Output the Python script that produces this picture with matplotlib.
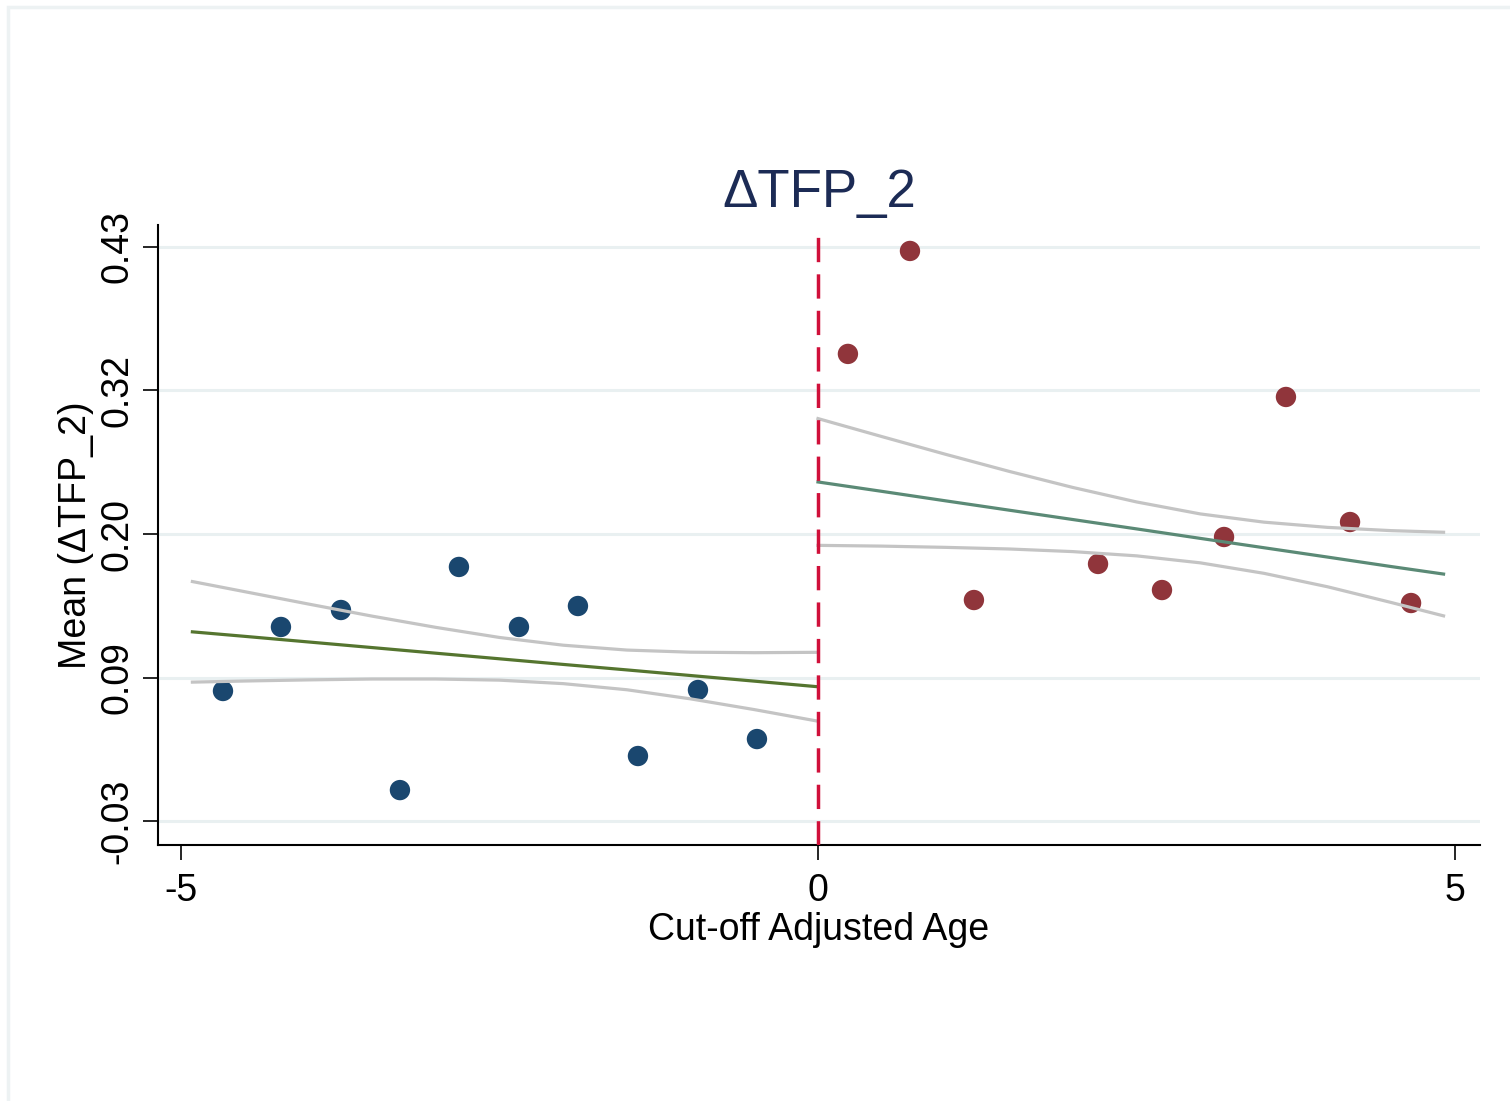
import matplotlib
matplotlib.use("Agg")
import matplotlib.pyplot as plt
from matplotlib.patches import Rectangle

plt.rcParams['font.family'] = ['Liberation Sans', 'DejaVu Sans']

# Binned means below the cut-off
left_x = [-4.67, -4.215, -3.744, -3.281, -2.818, -2.347, -1.884, -1.413, -0.942, -0.479]
left_y = [0.0742, 0.1255, 0.1391, -0.0052, 0.1736, 0.1255, 0.1423, 0.0221, 0.0750, 0.0357]

# Binned means above the cut-off
right_x = [0.235, 0.722, 1.224, 2.198, 2.700, 3.187, 3.673, 4.176, 4.655]
right_y = [0.3443, 0.4268, 0.1471, 0.1760, 0.1551, 0.1976, 0.3098, 0.2096, 0.1447]

# Linear fit with 95% band, left of the cut-off
left_grid = [-4.91, -4.5, -4.0, -3.5, -3.0, -2.5, -2.0, -1.5, -1.0, -0.5, 0.0]
left_fit = [0.1216, 0.1180, 0.1135, 0.1090, 0.1045, 0.1000, 0.0955, 0.0911, 0.0866, 0.0821, 0.0776]
left_hi = [0.1619, 0.1538, 0.1439, 0.1342, 0.1252, 0.1171, 0.1109, 0.1070, 0.1053, 0.1049, 0.1052]
left_lo = [0.0813, 0.0822, 0.0831, 0.0838, 0.0838, 0.0829, 0.0801, 0.0752, 0.0679, 0.0593, 0.0500]

# Linear fit with 95% band, right of the cut-off
right_grid = [0.0, 0.5, 1.0, 1.5, 2.0, 2.5, 3.0, 3.5, 4.0, 4.5, 4.91]
right_fit = [0.2417, 0.2342, 0.2266, 0.2191, 0.2116, 0.2041, 0.1965, 0.1890, 0.1815, 0.1739, 0.1679]
right_hi = [0.2925, 0.2781, 0.2639, 0.2502, 0.2373, 0.2257, 0.2161, 0.2095, 0.2053, 0.2027, 0.2014]
right_lo = [0.1909, 0.1903, 0.1893, 0.1880, 0.1859, 0.1825, 0.1769, 0.1685, 0.1577, 0.1451, 0.1344]

cutoff = 0.0
x_ticks = [-5, 0, 5]
y_ticks = [-0.03, 0.085, 0.20, 0.315, 0.43]
y_tick_labels = ["-0.03", "0.09", "0.20", "0.32", "0.43"]

fig = plt.figure(figsize=(15.10, 11.01), dpi=100)
fig.patches.append(Rectangle((8 / 1510, -0.01), 1.02, (1101 - 7) / 1101 + 0.01,
                             transform=fig.transFigure, fill=False,
                             edgecolor="#edf2f3", linewidth=2.5, zorder=0))

ax = fig.add_axes([158 / 1510, 1 - 845 / 1101, (1480 - 158) / 1510, (845 - 225) / 1101])
ax.set_xlim(-5.18, 5.196)
ax.set_ylim(-0.0492, 0.4476)

for yv in y_ticks:
    ax.axhline(yv, color="#e9f0f1", linewidth=2.2, zorder=1)

ax.scatter(left_x, left_y, s=215, color="#1a476f", edgecolors="none", zorder=3)
ax.scatter(right_x, right_y, s=215, color="#90353b", edgecolors="none", zorder=3)

ci_color = "#c4c4c4"
ax.plot(left_grid, left_hi, color=ci_color, linewidth=2.3, zorder=4)
ax.plot(left_grid, left_lo, color=ci_color, linewidth=2.3, zorder=4)
ax.plot(left_grid, left_fit, color="#55752f", linewidth=2.3, zorder=5)
ax.plot(right_grid, right_hi, color=ci_color, linewidth=2.3, zorder=4)
ax.plot(right_grid, right_lo, color=ci_color, linewidth=2.3, zorder=4)
ax.plot(right_grid, right_fit, color="#5b8a76", linewidth=2.3, zorder=5)

ax.axvline(cutoff, ymin=0, ymax=(845 - 229) / (845 - 225), color="#d0103a",
           linewidth=2.5, dashes=(7, 3.5), zorder=6)

ax.set_xticks(x_ticks)
ax.set_xticklabels([str(v) for v in x_ticks], fontsize=27)
ax.set_yticks(y_ticks)
ax.set_yticklabels(y_tick_labels, fontsize=27, rotation=90, va="center")
ax.tick_params(axis="both", direction="out", length=11, width=1.2, color="black")
ax.tick_params(axis="x", pad=9)
ax.tick_params(axis="y", pad=5)

for side in ("top", "right"):
    ax.spines[side].set_visible(False)
for side in ("left", "bottom"):
    ax.spines[side].set_linewidth(1.5)
    ax.spines[side].set_color("black")

ax.set_xlabel("Cut-off Adjusted Age", fontsize=27, labelpad=2)
ax.set_ylabel("Mean (ΔTFP_2)", fontsize=27, labelpad=4)
ax.set_title("ΔTFP_2", fontsize=38, color="#1c2b55", pad=13)

fig.savefig("out.png", dpi=100, facecolor="white")
